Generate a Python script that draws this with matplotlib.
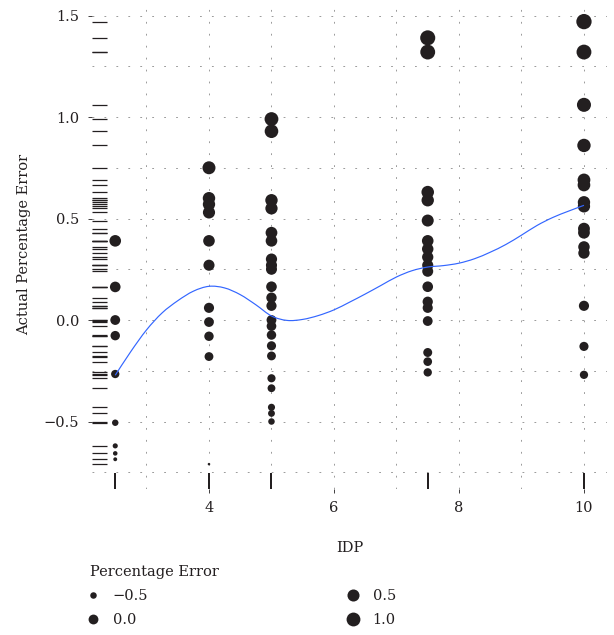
import matplotlib
matplotlib.use("Agg")
import matplotlib.pyplot as plt
import numpy as np
from matplotlib.lines import Line2D
from matplotlib.path import Path
from matplotlib.patches import PathPatch

# Observed percentage errors grouped by IDP level
idp_levels = [2.5, 4, 5, 7.5, 10]
err_idp_2_5 = [0.39, 0.163, 0.0, -0.077, -0.266, -0.506, -0.62, -0.657, -0.686]
err_idp_4 = [0.75, 0.60, 0.57, 0.53, 0.39, 0.27, 0.06, -0.01, -0.08, -0.18, -0.71]
err_idp_5 = [0.99, 0.93, 0.59, 0.55, 0.43, 0.39, 0.30, 0.27, 0.25, 0.164, 0.11,
             0.07, 0.0, -0.03, -0.074, -0.127, -0.177, -0.287, -0.336, -0.43,
             -0.46, -0.50]
err_idp_7_5 = [1.39, 1.32, 0.63, 0.59, 0.49, 0.39, 0.35, 0.31, 0.27, 0.24, 0.164,
               0.09, 0.06, -0.005, -0.16, -0.205, -0.258]
err_idp_10 = [1.47, 1.32, 1.06, 0.86, 0.69, 0.665, 0.58, 0.56, 0.45, 0.43, 0.36,
              0.33, 0.07, -0.13, -0.27]

# Fitted smooth trend of error against IDP
smooth_idp = [2.5, 2.75, 3.0, 3.25, 3.5, 3.75, 4.0, 4.25, 4.5, 4.75, 5.0, 5.25,
              5.5, 5.75, 6.0, 6.25, 6.5, 6.75, 7.0, 7.25, 7.5, 7.75, 8.0, 8.25,
              8.5, 8.75, 9.0, 9.25, 9.5, 9.75, 10.0]
smooth_err = [-0.272, -0.155, -0.049, 0.035, 0.095, 0.142, 0.166, 0.158, 0.125,
              0.075, 0.020, -0.002, 0.003, 0.022, 0.050, 0.088, 0.128, 0.170,
              0.212, 0.243, 0.261, 0.268, 0.280, 0.302, 0.334, 0.372, 0.418,
              0.466, 0.505, 0.536, 0.565]

x_ticks = [4, 6, 8, 10]
y_ticks = [-0.5, 0.0, 0.5, 1.0, 1.5]
legend_values = [-0.5, 0.0, 0.5, 1.0]

groups = [err_idp_2_5, err_idp_4, err_idp_5, err_idp_7_5, err_idp_10]
x_all = np.concatenate([[lvl] * len(g) for lvl, g in zip(idp_levels, groups)])
y_all = np.concatenate(groups)

vmin, vmax = y_all.min(), y_all.max()


def point_diameter_pt(v):
    # area-proportional size scale, size range 1..6
    t = np.clip((np.asarray(v, dtype=float) - vmin) / (vmax - vmin), 0, 1)
    size = 1 + 5 * np.sqrt(t)
    return size * 2.55 * 72 / 100


def smooth_path(xs, ys):
    # Catmull-Rom curve through the trend values, expressed as cubic Beziers
    p = np.column_stack([xs, ys]).astype(float)
    ext = np.vstack([p[0], p, p[-1]])
    verts = [p[0]]
    codes = [Path.MOVETO]
    for i in range(1, len(ext) - 2):
        p0, p1, p2, p3 = ext[i - 1], ext[i], ext[i + 1], ext[i + 2]
        verts += [p1 + (p2 - p0) / 6, p2 - (p3 - p1) / 6, p2]
        codes += [Path.CURVE4] * 3
    return Path(verts, codes)


plt.rcParams['font.family'] = ['DejaVu Serif']
plt.rcParams['lines.scale_dashes'] = False
FS = 10.5

W, H = 614, 635
fig = plt.figure(figsize=(W / 100, H / 100), dpi=100)
ax_left, ax_right = 91.8, 607.4
ax_top, ax_bottom = 0.3, 488.5
ax = fig.add_axes([ax_left / W, 1 - ax_bottom / H,
                   (ax_right - ax_left) / W, (ax_bottom - ax_top) / H])

ink = '#231f20'

ax.set_xlim(2.125, 10.375)
ax.set_ylim(-0.83, 1.575)

ax.set_xticks(x_ticks)
ax.set_xticks([3, 5, 7, 9], minor=True)
ax.set_yticks(y_ticks)
ax.set_yticks([-0.75, -0.25, 0.25, 0.75, 1.25], minor=True)
ax.set_yticklabels([f"{v:.1f}".replace('-', '\u2212') for v in y_ticks])

ax.grid(which='both', color='#9a9a9a', linewidth=0.7, linestyle=(0, (1.3, 7.3)))
ax.set_axisbelow(True)

for s in ax.spines.values():
    s.set_visible(False)

ax.tick_params(which='major', length=3, width=0.6, color=ink, labelsize=FS,
               labelcolor=ink, pad=6)
ax.tick_params(which='minor', length=0)

# rug marks along both axes
ax.hlines(y_all, 0, 0.03, transform=ax.get_yaxis_transform(), color=ink,
          linewidth=0.9, zorder=2)
ax.vlines(x_all, 0, 0.031, transform=ax.get_xaxis_transform(), color=ink,
          linewidth=1.3, zorder=2)

d = point_diameter_pt(y_all)
ax.scatter(x_all, y_all, s=d ** 2, color=ink, linewidths=0, zorder=3)

ax.add_patch(PathPatch(smooth_path(smooth_idp, smooth_err), facecolor='none',
                       edgecolor='#3366FF', linewidth=0.85, zorder=4))

ax.set_xlabel('IDP', fontsize=FS, color=ink, labelpad=18.5)
ax.set_ylabel('Actual Percentage Error', fontsize=FS, color=ink, labelpad=9.5)

handles = [Line2D([], [], linestyle='none', marker='o', markersize=point_diameter_pt(v),
                  markerfacecolor=ink, markeredgewidth=0)
           for v in legend_values]
labels = [f"{v:.1f}".replace('-', '\u2212') for v in legend_values]
leg = fig.legend(handles, labels, title='Percentage Error', ncol=2,
                 loc='upper left', bbox_to_anchor=(90 / W, 1 - 565 / H),
                 frameon=False, fontsize=FS, title_fontsize=FS,
                 alignment='left', borderpad=0, borderaxespad=0,
                 handlelength=0.45, handletextpad=1.12, columnspacing=13.8,
                 labelspacing=0.68)
for t in leg.get_texts():
    t.set_color(ink)
leg.get_title().set_color(ink)

fig.savefig('out.png', dpi=100)
